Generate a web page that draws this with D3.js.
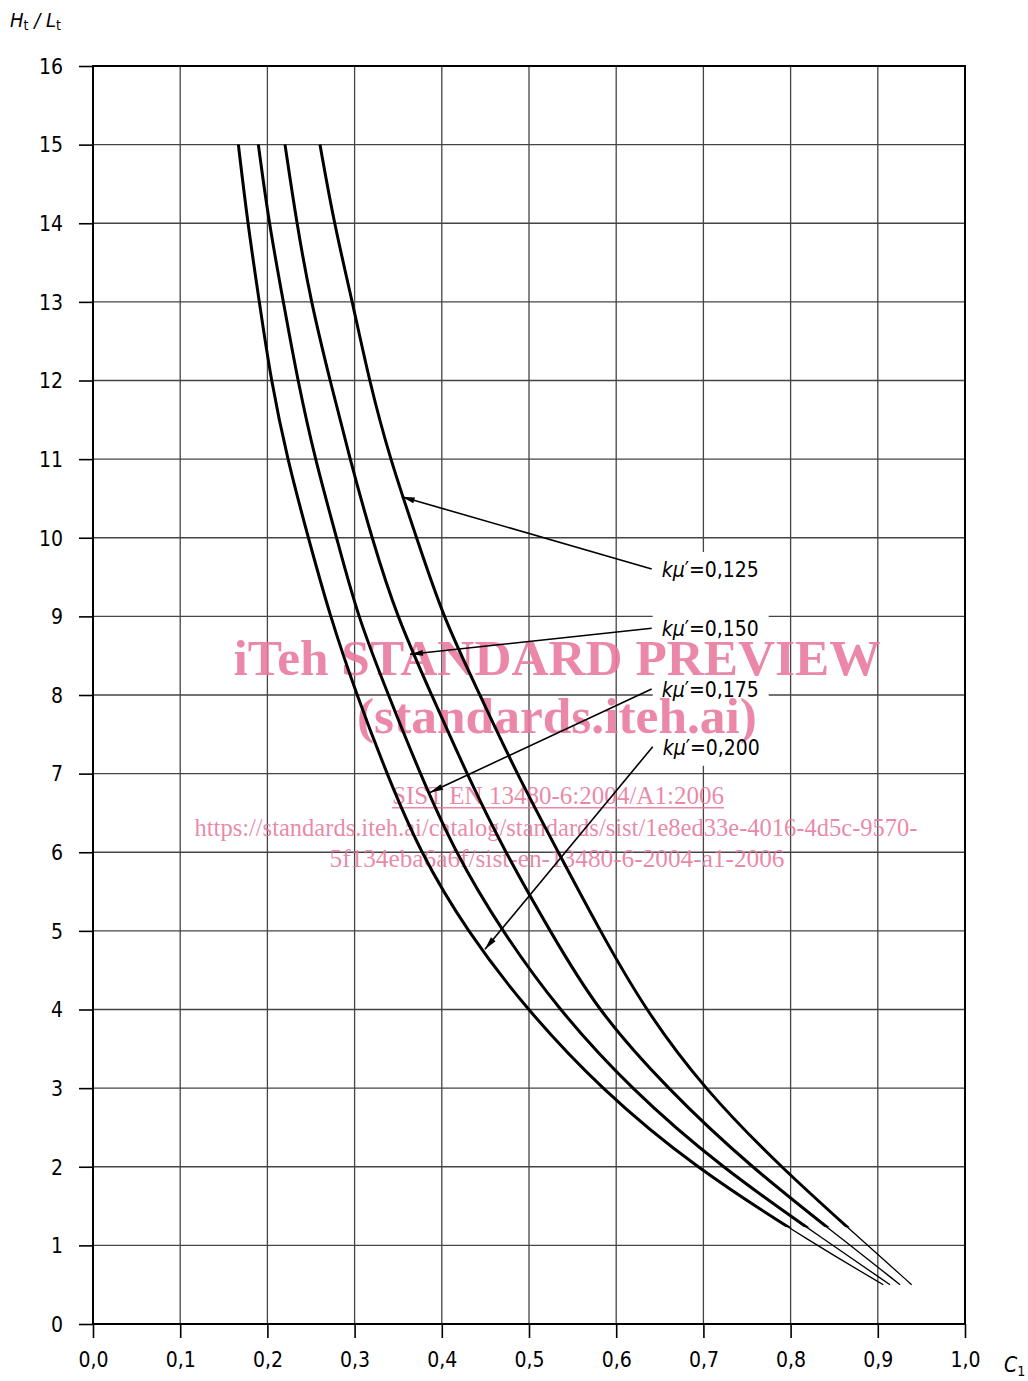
<!DOCTYPE html>
<html><head><meta charset="utf-8">
<script src="https://cdn.jsdelivr.net/npm/d3@7"></script>
<style>body{margin:0;background:#fff}svg{display:block}</style>
</head><body>
<svg id="c" width="1028" height="1381"></svg>
<script>
// ---------- data ----------
const hRatio = [15,14,13,12,11,10,9,8,7,6,5,4,3,2,1,0.5];          // Ht/Lt
const kmuLabels = ["0,125","0,150","0,175","0,200"];
const c1_k0125 = [0.2603,0.2764,0.2975,0.3167,0.3406,0.3712,0.4010,0.4438,0.4859,0.5336,0.5814,0.6330,0.7000,0.7878,0.8884,0.9388];
const c1_k0150 = [0.2202,0.2336,0.2499,0.2718,0.2947,0.3196,0.3482,0.3884,0.4285,0.4725,0.5240,0.5776,0.6579,0.7534,0.8685,0.9255];
const c1_k0175 = [0.1896,0.2018,0.2183,0.2347,0.2546,0.2794,0.3034,0.3387,0.3750,0.4151,0.4687,0.5336,0.6158,0.7190,0.8480,0.9140];
const c1_k0200 = [0.1667,0.1774,0.1907,0.2041,0.2228,0.2469,0.2718,0.3024,0.3368,0.3750,0.4285,0.4973,0.5814,0.6884,0.8296,0.9063];
const thickLimit = 1.23; // curves drawn heavy above this Ht/Lt, light below
// leader lines: start (label side) and tip (on curve), in data units
const leaderStartC1 = [0.6407,0.6407,0.6407,0.6419];
const leaderStartH  = [9.603,8.848,8.076,7.342];
const leaderTipC1   = [0.3540,0.3635,0.3865,0.4495];
const leaderTipH    = [10.522,8.518,6.760,4.766];
const xTickValues = [0,0.1,0.2,0.3,0.4,0.5,0.6,0.7,0.8,0.9,1.0];
const xTickLabels = ["0,0","0,1","0,2","0,3","0,4","0,5","0,6","0,7","0,8","0,9","1,0"];
const yTickValues = [0,1,2,3,4,5,6,7,8,9,10,11,12,13,14,15,16];
const yTickLabels = yTickValues.map(String);
const watermark = ["iTeh STANDARD PREVIEW","(standards.iteh.ai)","SIST EN 13480-6:2004/A1:2006",
  "https://standards.iteh.ai/catalog/standards/sist/1e8ed33e-4016-4d5c-9570-",
  "5f134eba6a6f/sist-en-13480-6-2004-a1-2006"];

const series = [c1_k0125,c1_k0150,c1_k0175,c1_k0200];

// ---------- layout ----------
const svg = d3.select("#c");
const x = d3.scaleLinear().domain([0,1]).range([93,965]);
const y = d3.scaleLinear().domain([0,16]).range([1324,66]);
const FONT = "'Liberation Sans Narrow','DejaVu Sans Condensed',Roboto,sans-serif";

// grid
const g = svg.append("g");
g.selectAll("line.v").data(xTickValues.filter(v=>v>0&&v<1)).join("line")
  .attr("x1",d=>x(d)).attr("x2",d=>x(d)).attr("y1",y(16)).attr("y2",y(0))
  .attr("stroke","#444").attr("stroke-width",1.3);
g.selectAll("line.h").data(yTickValues.filter(v=>v>0&&v<16)).join("line")
  .attr("x1",x(0)).attr("x2",x(1)).attr("y1",d=>y(d)).attr("y2",d=>y(d))
  .attr("stroke","#444").attr("stroke-width",1.3);

// white box behind labels
svg.append("rect").attr("x",x(leaderStartC1[0])+1).attr("y",y(leaderStartH[0])-17)
  .attr("width",116).attr("height",y(leaderStartH[3])-y(leaderStartH[0])+36).attr("fill","#fff");

// frame
svg.append("rect").attr("x",x(0)).attr("y",y(16)).attr("width",x(1)-x(0)).attr("height",y(0)-y(16))
  .attr("fill","none").attr("stroke","#000").attr("stroke-width",2);

// axes ticks + labels
const xAxis = d3.axisBottom(x).tickValues(xTickValues).tickFormat((d,i)=>xTickLabels[i]).tickSize(14).tickPadding(14);
const yAxis = d3.axisLeft(y).tickValues(yTickValues).tickFormat((d,i)=>yTickLabels[i]).tickSize(14).tickPadding(16);
const ax = svg.append("g").attr("transform",`translate(0,${y(0)})`).call(xAxis);
const ay = svg.append("g").attr("transform",`translate(${x(0)},0)`).call(yAxis);
[ax,ay].forEach(a=>{
  a.select(".domain").remove();
  a.selectAll(".tick line").attr("stroke","#000").attr("stroke-width",1.6);
  a.selectAll(".tick text").attr("font-family",FONT).attr("font-size",21).attr("fill","#000");
});
ay.selectAll(".tick text").attr("dy","0.35em");

// axis titles
const t1 = svg.append("text").attr("x",10).attr("y",27).attr("font-family",FONT).attr("font-size",20);
t1.append("tspan").attr("font-style","italic").text("H");
t1.append("tspan").attr("font-size",14).attr("dy",3).text("t");
t1.append("tspan").attr("dy",-3).attr("font-style","italic").text(" / ");
t1.append("tspan").attr("font-style","italic").text("L");
t1.append("tspan").attr("font-size",14).attr("dy",3).text("t");
const t2 = svg.append("text").attr("x",1004).attr("y",1372).attr("font-family",FONT).attr("font-size",21);
t2.append("tspan").attr("font-style","italic").text("C");
t2.append("tspan").attr("font-size",14).attr("dy",4).text("1");

// watermark
const wm = svg.append("g").attr("fill","#e8789c").attr("fill-opacity",0.88).attr("font-family","'Liberation Serif','Times New Roman',serif");
const wmSpec = [
  {cx:557,y:675,size:50,w:647,bold:true},
  {cx:557,y:733,size:50,w:400,bold:true},
  {cx:558,y:804,size:25,w:332,bold:false,ul:true},
  {cx:556,y:836,size:25,w:723,bold:false},
  {cx:557,y:867,size:25,w:455,bold:false}];
watermark.forEach((s,i)=>{
  const sp = wmSpec[i];
  wm.append("text").attr("x",sp.cx-sp.w/2).attr("y",sp.y).attr("font-size",sp.size)
    .attr("font-weight",sp.bold?"bold":"normal").attr("textLength",sp.w).attr("lengthAdjust","spacingAndGlyphs")
    .text(s);
  if(sp.ul) wm.append("rect").attr("x",sp.cx-sp.w/2).attr("y",sp.y+3).attr("width",sp.w).attr("height",1.5);
});

// curves
const line = d3.line().x(d=>x(d[0])).y(d=>y(d[1])).curve(d3.curveBasis);
svg.append("clipPath").attr("id","thick").append("rect")
  .attr("x",0).attr("y",0).attr("width",1028).attr("height",y(thickLimit));
series.forEach(s=>{
  const pts = s.map((c,i)=>[c,hRatio[i]]);
  svg.append("path").attr("d",line(pts)).attr("fill","none").attr("stroke","#000").attr("stroke-width",1.3);
  svg.append("path").attr("d",line(pts)).attr("fill","none").attr("stroke","#000").attr("stroke-width",3)
    .attr("clip-path","url(#thick)");
});

// leaders with arrowheads + labels
kmuLabels.forEach((lab,i)=>{
  const x0=x(leaderStartC1[i]), y0=y(leaderStartH[i]), x1=x(leaderTipC1[i]), y1=y(leaderTipH[i]);
  svg.append("line").attr("x1",x0).attr("y1",y0).attr("x2",x1).attr("y2",y1).attr("stroke","#000").attr("stroke-width",1.6);
  const ang = Math.atan2(y1-y0,x1-x0), L=13, W=3;
  const bx = x1-L*Math.cos(ang), by = y1-L*Math.sin(ang);
  const px = -Math.sin(ang)*W, py = Math.cos(ang)*W;
  svg.append("path").attr("d",`M${x1},${y1}L${bx+px},${by+py}L${bx-px},${by-py}Z`).attr("fill","#000");
  const t = svg.append("text").attr("x",x0+10).attr("y",y0+8).attr("font-family",FONT).attr("font-size",21);
  t.append("tspan").attr("font-style","italic").text("kμ");
  t.append("tspan").text("′=" + lab);
});
</script>
</body></html>
